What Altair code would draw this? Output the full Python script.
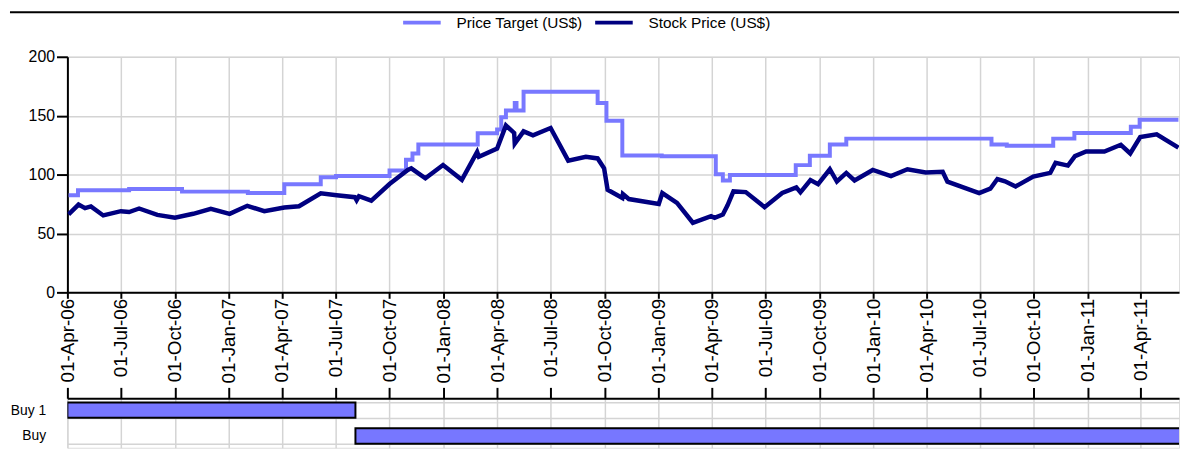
import altair as alt
import pandas as pd

# ---------------- data ----------------
stock_dates = [
    "2006-04-03", "2006-04-20", "2006-05-01", "2006-05-11", "2006-06-01", "2006-07-01",
    "2006-07-15", "2006-08-01", "2006-09-01", "2006-10-01", "2006-11-01", "2006-12-01",
    "2007-01-02", "2007-02-01", "2007-03-02", "2007-04-05", "2007-04-30", "2007-06-06",
    "2007-07-03", "2007-08-03", "2007-08-06", "2007-08-10", "2007-08-31", "2007-10-01",
    "2007-11-01", "2007-11-07", "2007-12-01", "2007-12-31", "2008-02-01", "2008-02-27",
    "2008-03-01", "2008-04-01", "2008-04-16", "2008-04-30", "2008-05-01", "2008-05-16",
    "2008-06-01", "2008-07-01", "2008-07-31", "2008-08-30", "2008-09-19", "2008-09-30",
    "2008-10-06", "2008-10-31", "2008-11-01", "2008-11-11", "2009-01-01", "2009-01-07",
    "2009-02-01", "2009-02-28", "2009-03-31", "2009-04-06", "2009-04-20", "2009-04-28",
    "2009-05-08", "2009-05-29", "2009-06-30", "2009-07-30", "2009-08-23", "2009-08-30",
    "2009-09-16", "2009-09-29", "2009-10-19", "2009-10-31", "2009-11-16", "2009-11-30",
    "2009-12-31", "2010-01-31", "2010-02-28", "2010-03-31", "2010-04-29", "2010-05-07",
    "2010-06-30", "2010-07-19", "2010-07-31", "2010-08-13", "2010-08-31", "2010-09-30",
    "2010-10-29", "2010-11-07", "2010-11-28", "2010-12-10", "2010-12-29", "2011-01-29",
    "2011-02-26", "2011-03-14", "2011-03-31", "2011-04-28", "2011-06-04",
]
stock_values = [
    66.2, 74.5, 71.5, 73.0, 65.3, 68.9,
    68.2, 71.2, 65.8, 63.3, 66.7, 70.9,
    66.7, 73.5, 68.9, 72.0, 73.1, 84.0,
    82.4, 80.8, 78.2, 81.6, 77.9, 92.0,
    103.9, 105.3, 96.9, 108.1, 95.5, 119.3,
    115.1, 122.1, 141.7, 135.3, 126.3, 136.7,
    133.4, 139.5, 111.8, 115.1, 113.7, 105.3,
    87.1, 80.1, 83.4, 79.2, 75.0, 84.3,
    75.9, 59.1, 64.7, 63.3, 66.1, 73.9,
    85.7, 85.1, 72.3, 84.3, 89.1, 84.9,
    95.3, 91.8, 104.5, 94.1, 101.4, 95.0,
    103.9, 98.7, 104.5, 101.7, 102.3, 94.0,
    84.3, 88.0, 96.2, 94.3, 89.9, 98.3,
    101.4, 110.0, 107.6, 115.7, 119.6, 119.6,
    125.3, 117.9, 131.9, 134.2, 122.9,
]

target_dates = [
    "2006-04-03", "2006-04-19", "2006-07-15", "2006-10-13", "2007-02-02", "2007-04-05",
    "2007-06-06", "2007-07-02", "2007-10-01", "2007-10-29", "2007-11-09", "2007-11-19",
    "2008-02-28", "2008-04-01", "2008-04-08", "2008-04-16", "2008-05-01", "2008-05-04",
    "2008-05-16", "2008-09-19", "2008-10-04", "2008-10-31", "2009-01-06", "2009-04-08",
    "2009-04-20", "2009-05-02", "2009-08-22", "2009-09-15", "2009-10-19", "2009-11-16",
    "2010-07-21", "2010-08-16", "2010-11-03", "2010-12-09", "2011-03-15", "2011-03-30",
    "2011-06-04",
]
target_values = [
    82.4, 86.6, 87.8, 85.5, 84.3, 91.8,
    97.7, 98.7, 103.5, 112.5, 117.9, 125.5,
    135.0, 138.3, 148.7, 154.3, 160.8, 154.3,
    170.3, 160.8, 145.7, 116.2, 115.5, 100.3,
    94.9, 99.7, 108.0, 116.0, 125.6, 130.5,
    125.6, 124.4, 130.5, 135.3, 140.6, 146.5,
    146.5,
]

series_names = ["Price Target (US$)", "Stock Price (US$)"]
series_colors = ["#7878FF", "#000080"]

rating_labels = ["Buy 1", "Buy"]
rating_starts = ["2006-04-01", "2007-08-04"]
rating_ends = ["2007-08-04", "2011-07-01"]

y_ticks = [0, 50, 100, 150, 200]

# ---------------- layout constants ----------------
W = 1123
H_TOP = 238
H_BOT = 50
FONT = "Liberation Sans"
GRID = "#d4d4d4"

df_stock = pd.DataFrame({"date": stock_dates, "value": stock_values, "series": series_names[1]})
df_target = pd.DataFrame({"date": target_dates, "value": target_values, "series": series_names[0]})
df_rating = pd.DataFrame({"rating": rating_labels, "start": rating_starts, "end": rating_ends})

x_scale = alt.Scale(
    type="utc",
    domain=[alt.DateTime(year=2006, month=4, date=1, utc=True),
            alt.DateTime(year=2011, month=6, date=5, utc=True)],
)
quarter = {"interval": "month", "step": 3}

color = alt.Color(
    "series:N",
    scale=alt.Scale(domain=series_names, range=series_colors),
    legend=alt.Legend(
        orient="none", legendX=337, legendY=-43, direction="horizontal", title=None,
        symbolType="M-1,0H5", symbolStrokeWidth=4, symbolSize=160,
        labelFont=FONT, labelFontSize=15.5, labelColor="#000000",
        labelOffset=39, columnPadding=4, padding=0,
    ),
)

x_top = alt.X(
    "date:T", scale=x_scale,
    axis=alt.Axis(
        format="%d-%b-%y", tickCount=quarter, labelAngle=-90, title=None,
        labelFont=FONT, labelFontSize=19, labelColor="#000000", labelPadding=0,
        tickSize=6, tickColor="#000000", tickWidth=2, domainColor="#000000", domainWidth=2,
        grid=True, gridColor=GRID, gridWidth=1.5, labelOverlap=False,
    ),
)
y_top = alt.Y(
    "value:Q", scale=alt.Scale(domain=[0, 200]),
    axis=alt.Axis(
        values=y_ticks, title=None, labelFont=FONT, labelFontSize=16, labelColor="#000000",
        tickSize=11, tickColor="#000000", tickWidth=2, labelPadding=2,
        domainColor="#000000", domainWidth=2, grid=True, gridColor=GRID, gridWidth=1.5,
    ),
)

target_line = alt.Chart(df_target).mark_line(
    interpolate="step-after", strokeWidth=4, clip=True
).encode(x=x_top, y=y_top, color=color)

stock_line = alt.Chart(df_stock).mark_line(strokeWidth=4.5, clip=True).encode(
    x=x_top, y=y_top, color=color
)

top_rule = alt.Chart(pd.DataFrame({"k": [0]})).mark_rule(color="#000000", strokeWidth=2).encode(
    x=alt.value(-58), x2=alt.value(W), y=alt.value(-45)
)

top = alt.layer(target_line, stock_line, top_rule).properties(width=W, height=H_TOP)

bottom = alt.Chart(df_rating).mark_bar(
    color="#7777FF", stroke="#000000", strokeWidth=2, clip=True
).encode(
    x=alt.X(
        "start:T", scale=x_scale,
        axis=alt.Axis(
            orient="top", labels=False, title=None, tickCount=quarter,
            tickSize=11, tickColor="#000000", tickWidth=2, domainColor="#000000", domainWidth=2,
            grid=True, gridColor=GRID, gridWidth=1.5,
        ),
    ),
    x2="end:T",
    y=alt.Y(
        "rating:N", sort=rating_labels,
        scale=alt.Scale(paddingInner=0.4, paddingOuter=0.16),
        axis=alt.Axis(
            title=None, ticks=False, domain=False, labelFont=FONT, labelFontSize=14,
            labelColor="#000000", labelPadding=22, grid=True, gridColor=GRID, gridWidth=1.5,
            tickBand="extent",
        ),
    ),
).properties(width=W, height=H_BOT)

chart = (
    alt.vconcat(top, bottom, spacing=1)
    .resolve_scale(x="independent", color="independent")
    .resolve_legend(color="independent")
    .configure_view(strokeWidth=0)
    .configure(background="#ffffff", padding=0)
)

chart.save("out.html", embed_options={"renderer": "svg", "actions": False})
